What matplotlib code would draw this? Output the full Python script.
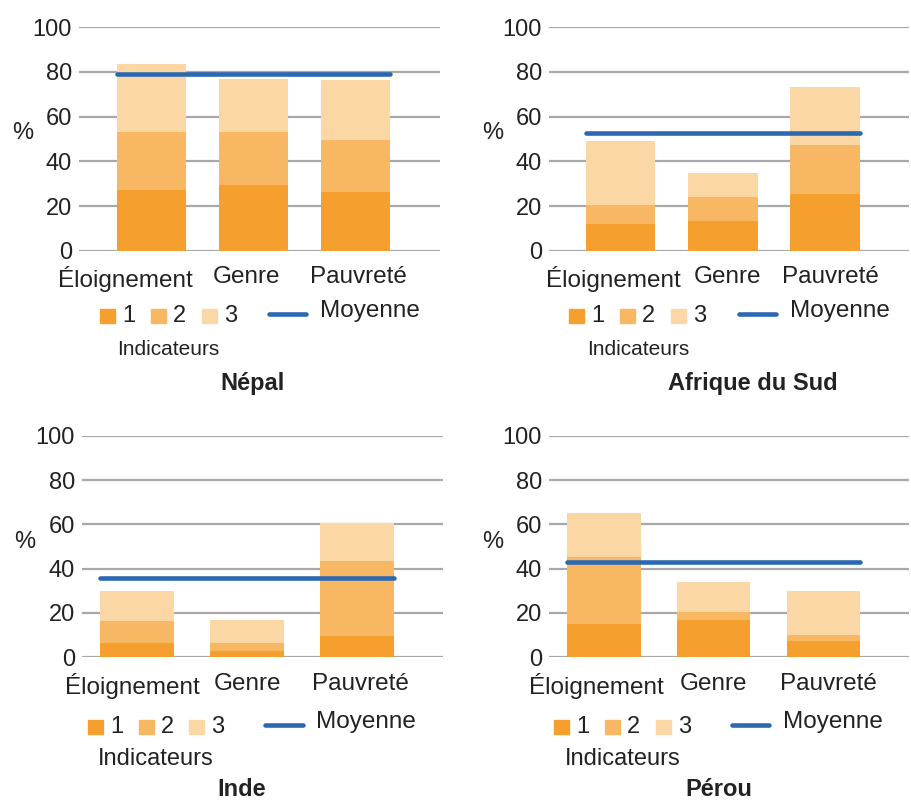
import numpy as np
import matplotlib
matplotlib.use('Agg')
import matplotlib.pyplot as plt
from matplotlib.patches import Rectangle
from matplotlib.lines import Line2D

plt.rcParams['font.family'] = ['Liberation Sans', 'DejaVu Sans']

W, H = 912, 802

categories = ['Éloignement', 'Genre', 'Pauvreté']
countries = ['Népal', 'Afrique du Sud', 'Inde', 'Pérou']
series_labels = ['1', '2', '3']

# indicator values per country (stacked)
nepal_1 = [27.2, 29.4, 26.3]
nepal_2 = [25.9, 23.7, 23.3]
nepal_3 = [30.5, 23.8, 26.8]
nepal_mean = 79.1

afrique_1 = [11.9, 13.3, 25.4]
afrique_2 = [8.5, 10.7, 21.9]
afrique_3 = [28.6, 10.8, 26.0]
afrique_mean = 52.7

inde_1 = [6.5, 3.0, 9.6]
inde_2 = [9.9, 3.5, 33.9]
inde_3 = [13.5, 10.3, 17.1]
inde_mean = 35.8

perou_1 = [15.0, 16.8, 7.4]
perou_2 = [30.2, 3.6, 2.7]
perou_3 = [19.9, 13.5, 19.8]
perou_mean = 43.0

data = [
    (nepal_1, nepal_2, nepal_3, nepal_mean),
    (afrique_1, afrique_2, afrique_3, afrique_mean),
    (inde_1, inde_2, inde_3, inde_mean),
    (perou_1, perou_2, perou_3, perou_mean),
]

colors = ['#F5A02E', '#F8B762', '#FBD7A5']
blue = '#2C68B2'
grid_gray = '#A8A8A8'
txt = '#222222'

# layout per panel, in figure pixels (top-left origin)
layouts = [
    dict(rect=(79, 27.3, 440, 250.7), xlim=(-0.71, 2.83), bw=0.68,
         tick_off=[-0.26, -0.07, 0.03],
         pct=(23, 133), sq=[100, 151, 202], sqy=316, line=(269, 306, 314),
         moy=(320, 311), ind=(168, 349), ind_fs=15, title=(252, 384)),
    dict(rect=(549, 27.3, 909, 250.7), xlim=(-0.70, 2.82), bw=0.68,
         tick_off=[-0.07, 0.05, 0.05],
         pct=(493, 133), sq=[569, 620, 671], sqy=316, line=(739, 776, 314),
         moy=(790, 311), ind=(638, 349), ind_fs=15, title=(753, 384)),
    dict(rect=(82, 435.7, 443, 657.3), xlim=(-0.5, 2.78), bw=0.67,
         tick_off=[-0.04, 0.0, 0.03],
         pct=(25, 542), sq=[88, 139, 189], sqy=727, line=(265, 303, 725),
         moy=(316, 722), ind=(156, 759), ind_fs=17, title=(242, 789)),
    dict(rect=(549, 435.7, 909, 657.3), xlim=(-0.5, 2.78), bw=0.67,
         tick_off=[-0.07, 0.0, 0.05],
         pct=(493, 542), sq=[554, 605, 656], sqy=727, line=(732, 769, 725),
         moy=(783, 722), ind=(623, 759), ind_fs=17, title=(719, 789)),
]


def fx(x):
    return x / W


def fy(y):
    return 1 - y / H


fig = plt.figure(figsize=(W / 100, H / 100), dpi=100)

for country, (s1, s2, s3, mean), lay in zip(countries, data, layouts):
    x0, y0, x1, y1 = lay['rect']
    ax = fig.add_axes([fx(x0), fy(y1), (x1 - x0) / W, (y1 - y0) / H])
    x = np.arange(len(categories))
    bottom = np.zeros(len(categories))
    for vals, c in zip([s1, s2, s3], colors):
        ax.bar(x, vals, lay['bw'], bottom=bottom, color=c, zorder=2)
        bottom += np.array(vals)
    ax.hlines(mean, x[0] - lay['bw'] / 2, x[-1] + lay['bw'] / 2, color=blue,
              lw=3.3, zorder=3, capstyle='round')
    ax.set_xlim(*lay['xlim'])
    ax.set_ylim(0, 100)
    ax.set_yticks(range(0, 101, 20))
    ax.yaxis.grid(True, color=grid_gray, lw=1.6, zorder=0)
    ax.set_axisbelow(True)
    for sp in ax.spines.values():
        sp.set_visible(False)
    ax.set_xticks(x + np.array(lay['tick_off']))
    ax.set_xticklabels(categories, fontsize=17.5)
    ax.tick_params(axis='both', length=0, colors=txt)
    ax.tick_params(axis='y', pad=5, labelsize=17)
    ax.tick_params(axis='x', pad=11)

    fig.text(fx(lay['pct'][0]), fy(lay['pct'][1]), '%', fontsize=17,
             color=txt, ha='center', va='center')

    # legend
    for sx, c, lab in zip(lay['sq'], colors, series_labels):
        fig.add_artist(Rectangle((fx(sx), fy(lay['sqy'] + 7)), 15 / W, 14 / H,
                                 transform=fig.transFigure, color=c))
        fig.text(fx(sx + 22), fy(lay['sqy']), lab, fontsize=17, color=txt,
                 ha='left', va='center')
    lx0, lx1, ly = lay['line']
    fig.add_artist(Line2D([fx(lx0), fx(lx1)], [fy(ly), fy(ly)],
                          transform=fig.transFigure, color=blue, lw=3.3,
                          solid_capstyle='round'))
    fig.text(fx(lay['moy'][0]), fy(lay['moy'][1]), 'Moyenne', fontsize=17.5,
             color=txt, ha='left', va='center')
    fig.text(fx(lay['ind'][0]), fy(lay['ind'][1]), 'Indicateurs',
             fontsize=lay['ind_fs'], color=txt, ha='center', va='center')
    fig.text(fx(lay['title'][0]), fy(lay['title'][1]), country, fontsize=17,
             fontweight='bold', color=txt, ha='center', va='center')

fig.savefig('out.png', dpi=100)
